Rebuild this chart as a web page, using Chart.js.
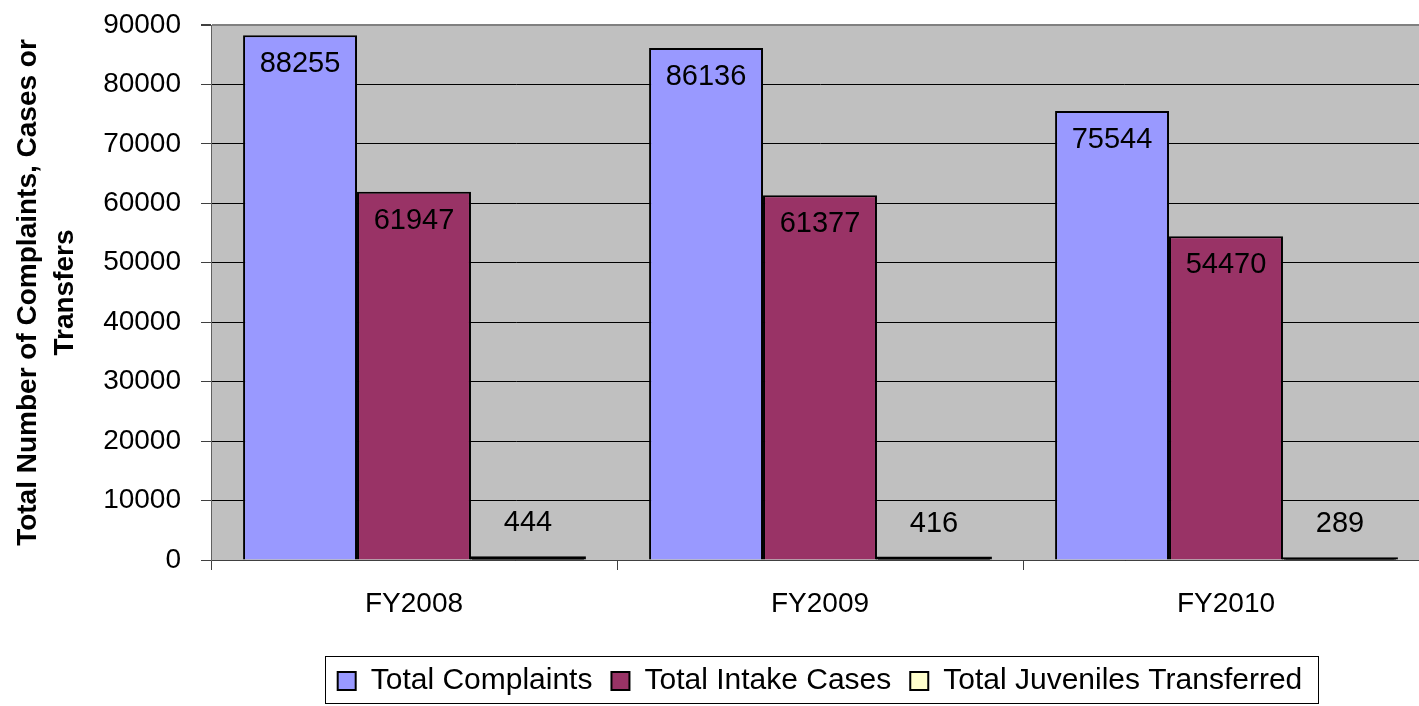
<!DOCTYPE html>
<html>
<head>
<meta charset="utf-8">
<script src="https://cdn.jsdelivr.net/npm/chart.js@4/dist/chart.umd.min.js"></script>
<style>
  html, body { margin: 0; padding: 0; background: #ffffff; overflow: hidden; width: 1419px; height: 706px; }
  #wrap { width: 1430px; height: 706px; }
  canvas { display: block; }
</style>
</head>
<body>
<div id="wrap"><canvas id="c" width="1430" height="706"></canvas></div>
<script>
const categories = ['FY2008', 'FY2009', 'FY2010'];
const seriesNames = ['Total Complaints', 'Total Intake Cases', 'Total Juveniles Transferred'];
const totalComplaints = [88255, 86136, 75544];
const totalIntakeCases = [61947, 61377, 54470];
const totalJuvenilesTransferred = [444, 416, 289];
const yTitle = ['Total Number of Complaints, Cases or', 'Transfers'];

const FONT = '"Liberation Sans", Arial, sans-serif';
const legendColors = ['#9999FF', '#993366', '#FFFFCC'];

const plotBg = {
  id: 'plotBg',
  beforeDraw(chart) {
    const a = chart.chartArea, ctx = chart.ctx;
    ctx.save();
    ctx.fillStyle = '#C0C0C0';
    ctx.fillRect(a.left, a.top, a.right - a.left, a.bottom - a.top);
    ctx.restore();
  }
};

const valueLabels = {
  id: 'valueLabels',
  afterDatasetsDraw(chart) {
    const ctx = chart.ctx;
    ctx.save();
    ctx.font = '29px ' + FONT;
    ctx.fillStyle = '#000';
    ctx.textAlign = 'center';
    ctx.textBaseline = 'middle';
    chart.data.datasets.forEach((ds, di) => {
      const meta = chart.getDatasetMeta(di);
      meta.data.forEach((el, i) => {
        const h = el.base - el.y;
        const y = h > 60 ? el.y + 29 : el.y - 34;
        ctx.fillText(String(ds.data[i]), el.x, y);
      });
    });
    ctx.restore();
  }
};

const legendFrame = {
  id: 'legendFrame',
  afterDraw(chart) {
    const lg = chart.legend;
    if (!lg || !lg.legendHitBoxes || !lg.legendHitBoxes.length) return;
    const hb = lg.legendHitBoxes;
    let l = Infinity, r = -Infinity;
    hb.forEach(b => { l = Math.min(l, b.left); r = Math.max(r, b.left + b.width); });
    const ctx = chart.ctx;
    ctx.save();
    ctx.strokeStyle = '#000';
    ctx.lineWidth = 1;
    ctx.strokeRect(Math.round(l - 13) + 0.5, 656.5, Math.round(r - l + 28), 47);
    ctx.restore();
  }
};

new Chart(document.getElementById('c'), {
  type: 'bar',
  data: {
    labels: categories,
    datasets: [
      { label: seriesNames[0], data: totalComplaints, backgroundColor: '#9999FF', borderColor: '#000', borderWidth: 2 },
      { label: seriesNames[1], data: totalIntakeCases, backgroundColor: '#993366', borderColor: '#000', borderWidth: 2 },
      { label: seriesNames[2], data: totalJuvenilesTransferred, backgroundColor: '#000000', borderColor: '#000', borderWidth: 2, inflateAmount: 1 }
    ]
  },
  options: {
    responsive: false,
    animation: false,
    devicePixelRatio: 1,
    layout: { padding: { top: 25, right: 1, left: 0, bottom: 0 } },
    datasets: { bar: { barPercentage: 1, categoryPercentage: 0.842 } },
    plugins: {
      tooltip: { enabled: false },
      legend: {
        position: 'bottom',
        fullSize: false,
        labels: {
          font: { family: FONT, size: 30 },
          color: '#000',
          boxWidth: 18,
          boxHeight: 18,
          padding: 19,
          generateLabels(chart) {
            return chart.data.datasets.map((ds, i) => ({
              text: ds.label,
              fillStyle: legendColors[i],
              strokeStyle: '#000',
              lineWidth: 2,
              hidden: false,
              datasetIndex: i,
              fontColor: '#000'
            }));
          }
        }
      }
    },
    scales: {
      x: {
        afterFit(s) { s.height = 87; },
        grid: { display: true, drawOnChartArea: false, drawTicks: true, tickLength: 10, tickColor: '#404040', offset: true },
        border: { display: true, color: '#404040', width: 1 },
        ticks: { font: { family: FONT, size: 28 }, color: '#000', padding: 17 }
      },
      y: {
        min: 0,
        max: 90000,
        afterFit(s) { s.width = 211; s.paddingTop = 0; s.paddingBottom = 0; },
        ticks: {
          stepSize: 10000,
          font: { family: FONT, size: 28 },
          color: '#000',
          padding: 20,
          callback: (v) => String(v)
        },
        grid: {
          color: (c) => (c.tick && c.tick.value === 90000) ? '#808080' : '#000',
          lineWidth: (c) => (c.tick && c.tick.value === 90000) ? 2 : 1,
          tickLength: 10,
          tickColor: '#404040'
        },
        border: { display: true, color: '#606060', width: 1 },
        title: {
          display: true,
          text: yTitle,
          font: { family: FONT, size: 28, weight: 'bold', lineHeight: 1.32 },
          color: '#000',
          padding: { top: 9.5, bottom: 0 }
        }
      }
    }
  },
  plugins: [plotBg, valueLabels, legendFrame]
});
</script>
</body>
</html>
